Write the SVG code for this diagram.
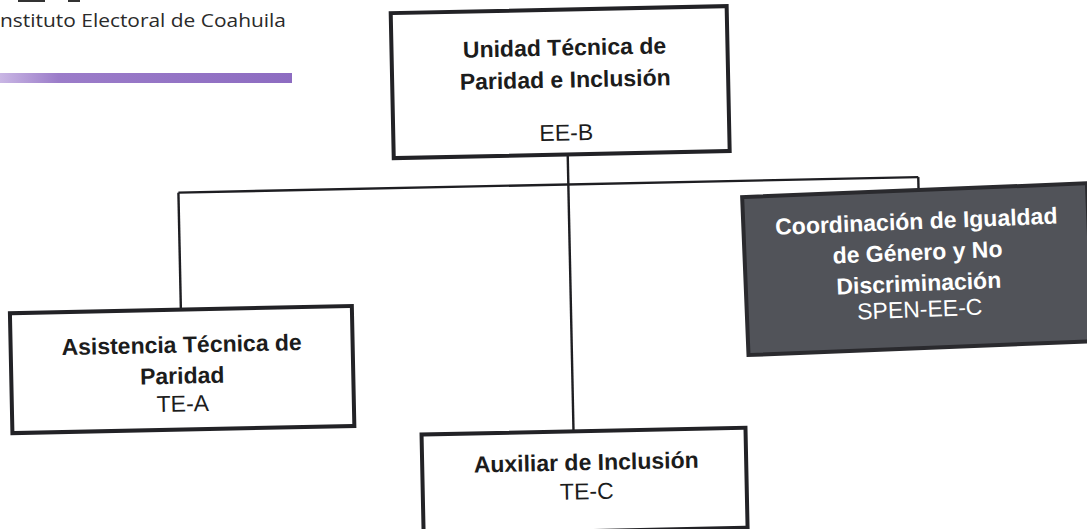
<svg xmlns="http://www.w3.org/2000/svg" width="1087" height="529" viewBox="0 0 1087 529">
  <defs>
    <linearGradient id="purpleBar" x1="0" y1="0" x2="1" y2="0">
      <stop offset="0" stop-color="#c9b6e4"/>
      <stop offset="0.2" stop-color="#9b7cc9"/>
      <stop offset="1" stop-color="#8d6cc1"/>
    </linearGradient>
  </defs>
  <style>
    .box { fill: #ffffff; stroke: #222226; stroke-width: 4; }
    .dark { fill: #515359; stroke: #2a2a2e; stroke-width: 4; }
    .conn { stroke: #1e1e22; stroke-width: 2.4; fill: none; }
    .t { font-family: "Liberation Sans", Arial, sans-serif; font-size: 23px; text-anchor: middle; fill: #1c1c1c; }
    .b { font-weight: bold; }
    .w { fill: #ffffff; }
    .hdr { font-family: "Open Sans", "Liberation Sans", sans-serif; font-size: 18px; fill: #2a2a2a; }
  </style>
  <rect width="1087" height="529" fill="#ffffff"/>

  <g id="header">
    <rect x="18" y="0" width="27" height="2" fill="#333"/>
    <rect x="68" y="0" width="12" height="2" fill="#333"/>
    <text class="hdr" x="0" y="27" textLength="286" lengthAdjust="spacingAndGlyphs">nstituto Electoral de Coahuila</text>
    <rect x="0" y="73" width="292" height="10" fill="url(#purpleBar)"/>
  </g>

  <g transform="rotate(-1.2 543 264)">
    <g id="connectors">
      <line class="conn" x1="570" y1="155" x2="570" y2="432"/>
      <line class="conn" x1="180" y1="185" x2="920" y2="185"/>
      <line class="conn" x1="180" y1="185" x2="180" y2="302"/>
      <line class="conn" x1="920" y1="185" x2="920" y2="203"/>
    </g>

    <g id="node-unidad">
      <rect class="box" x="396" y="10" width="336" height="145"/>
      <text class="t b" x="569" y="56">Unidad Técnica de</text>
      <text class="t b" x="569" y="88">Paridad e Inclusión</text>
      <text class="t" x="569" y="141">EE-B</text>
    </g>

    <g id="node-asistencia">
      <rect class="box" x="9" y="302" width="342" height="120"/>
      <text class="t b" x="180" y="345">Asistencia Técnica de</text>
      <text class="t b" x="180" y="376">Paridad</text>
      <text class="t" x="180" y="404">TE-A</text>
    </g>

    <g id="node-auxiliar">
      <rect class="box" x="418" y="432" width="324" height="100"/>
      <text class="t b" x="582" y="471">Auxiliar de Inclusión</text>
      <text class="t" x="582" y="500">TE-C</text>
    </g>

    <g id="node-coordinacion" transform="rotate(-1.1 917 277)">
      <rect class="dark" x="745" y="198" width="345" height="158"/>
      <text class="t b w" x="918" y="237">Coordinación de Igualdad</text>
      <text class="t b w" x="918" y="268">de Género y No</text>
      <text class="t b w" x="918" y="299">Discriminación</text>
      <text class="t w" x="918" y="325">SPEN-EE-C</text>
    </g>
  </g>
</svg>
